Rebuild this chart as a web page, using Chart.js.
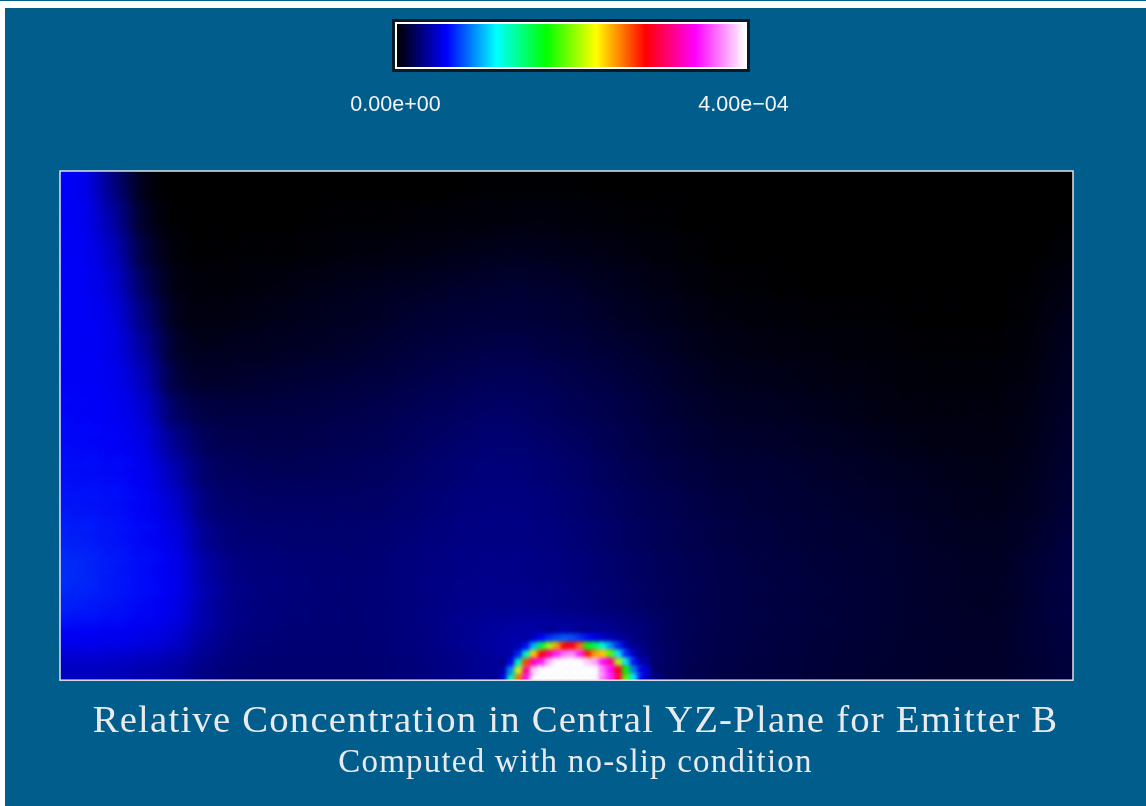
<!DOCTYPE html>
<html>
<head>
<meta charset="utf-8">
<script src="https://cdn.jsdelivr.net/npm/chart.js@4/dist/chart.umd.min.js"></script>
<style>
html, body { margin: 0; padding: 0; background: #fff; overflow: hidden; }
#strip { position: absolute; left: 0; top: 0; width: 1146px; height: 1px; background: #005d8c; }
#panel { position: absolute; left: 5px; top: 8px; width: 1141px; height: 798px; background: #005d8c; }
#chartMain { position: absolute; left: 0; top: 0; }
#chartBar { position: absolute; left: 335px; top: 2px; }
</style>
</head>
<body>
<div id="strip"></div>
<div id="panel">
    <canvas id="chartMain" width="1141" height="798"></canvas>
    <canvas id="chartBar" width="460" height="120"></canvas>
</div>
<script>
// colour scale, values are in units of 1e-6
const scaleMax = 400;
const stopColors = ['#000000', '#0000ff', '#00ffff', '#00ff00', '#ffff00', '#ff0000', '#ff00ff', '#ffffff'];
const barTickValues = [0, 4e-4];
const barTickLabels = ['0.00e+00', '4.00e\u221204'];
const barCategory = ['range'];
const barValues = [4e-4];

const titleText = 'Relative Concentration in Central YZ-Plane for Emitter B';
const subtitleText = 'Computed with no-slip condition';

// coarse field, first row is the top of the plot
const fieldRows = [
    [58,57,22,0,0,0,0,0,0,0,0,0,0,0,0,0,0,0,0,0,0,0,0,0,0,0,0,0,0,0,0,0,0,0],
    [58,57,30,3,0,0,0,0,0,1,1,1,1,1,2,2,2,2,1,1,1,1,0,0,0,0,0,0,0,0,0,0,0,0],
    [58,57,38,6,1,1,1,1,1,2,2,2,3,3,3,4,4,3,3,2,2,1,1,1,0,0,0,0,0,0,0,0,0,1],
    [58,57,46,12,2,1,2,2,2,3,4,4,5,6,7,8,7,6,5,4,3,2,1,1,1,0,0,0,0,0,0,0,1,3],
    [58,57,50,20,3,3,3,4,5,6,7,8,9,10,11,12,11,10,8,6,5,3,2,2,1,1,1,1,1,1,1,1,2,5],
    [58,57,54,28,5,4,5,6,7,8,9,10,12,13,14,14,13,12,10,8,7,5,4,3,3,2,2,2,1,1,1,1,3,7],
    [58,57,55,36,8,7,8,8,9,10,11,13,15,16,17,18,16,15,13,11,9,7,5,5,4,4,3,3,2,2,2,2,4,8],
    [58,57,56,44,12,10,11,12,13,14,15,16,18,19,21,21,20,18,16,14,11,9,7,7,6,5,5,4,3,3,3,3,5,9],
    [59,58,57,50,22,16,16,16,16,17,18,19,21,22,24,24,22,20,18,16,13,11,9,9,8,7,6,5,4,4,4,4,6,10],
    [60,59,58,54,33,20,19,18,18,19,20,21,23,25,27,27,25,23,20,17,15,13,11,11,10,9,8,7,6,5,5,5,7,11],
    [61,60,60,57,42,23,22,21,21,21,22,23,25,27,29,29,27,25,22,19,17,15,13,13,12,11,10,9,8,7,6,6,8,12],
    [63,62,61,58,49,27,25,24,24,24,24,25,27,29,30,30,29,26,24,21,19,17,15,14,13,12,11,10,9,8,7,7,9,13],
    [66,64,62,59,54,32,27,27,26,26,26,27,29,30,31,31,30,28,25,22,20,18,16,15,14,13,12,12,10,9,8,8,11,15],
    [69,67,63,60,56,38,30,29,28,27,27,28,30,31,32,32,31,29,26,23,21,19,17,16,15,14,13,12,11,10,9,9,13,16],
    [66,64,62,59,55,38,31,29,28,27,27,28,30,32,33,33,32,30,27,24,21,19,17,16,15,14,13,12,11,10,9,9,13,16],
    [57,57,56,54,49,36,30,28,27,27,27,28,30,33,36,40,40,38,36,30,22,19,17,16,15,14,13,12,11,11,10,10,13,15],
    [44,44,43,40,37,30,27,26,26,26,26,27,29,31,34,38,40,40,38,32,22,18,16,15,14,13,12,11,11,10,10,10,12,14]
];

// finer cells around the emitter, first row is the top, null = no cell
const emitterFirstCol = 14.25;
const emitterStep = 0.25;
const emitterRows = [
    [null,null,null,null,null,null,null,32,35,38,36,32,null,null,null,null,null,null,null,null,null,null],
    [null,null,null,null,35,45,58,68,74,78,76,68,60,52,46,40,35,null,null,null,null,null],
    [null,null,null,40,60,100,160,210,250,285,290,260,170,150,120,90,65,42,32,null,null,null],
    [null,null,38,65,130,240,290,320,350,370,375,350,280,250,240,190,110,65,42,30,null,null],
    [null,30,55,130,270,330,350,385,400,400,400,400,390,380,345,320,210,110,60,38,null,null],
    [null,40,90,220,320,390,400,400,400,400,400,400,400,400,370,345,290,170,85,50,null,null],
    [30,50,130,260,345,400,400,400,400,400,400,400,400,400,370,350,300,190,110,55,35,28]
];

function toCells(rows, firstCol, step) {
    let cells = [];
    for (let r = 0; r < rows.length; r++) {
        for (let c = 0; c < rows[r].length; c++) {
            if (rows[r][c] === null) continue;
            cells.push({
                x: firstCol + c * step,
                y: (rows.length - 1 - r) * step,
                v: rows[r][c]
            });
        }
    }
    return cells;
}

function hexToRgb(h) {
    return [parseInt(h.substr(1, 2), 16), parseInt(h.substr(3, 2), 16), parseInt(h.substr(5, 2), 16)];
}

function colorFor(v) {
    let t = Math.min(Math.max(v / scaleMax, 0), 1) * (stopColors.length - 1);
    let i = Math.min(Math.floor(t), stopColors.length - 2);
    let a = hexToRgb(stopColors[i]);
    let b = hexToRgb(stopColors[i + 1]);
    let f = t - i;
    return 'rgb(' + (a[0] + (b[0] - a[0]) * f) + ',' + (a[1] + (b[1] - a[1]) * f) + ',' + (a[2] + (b[2] - a[2]) * f) + ')';
}

// softens the cells the way the original image is smoothed
const cellBlur = {
    id: 'cellBlur',
    beforeDatasetDraw(chart, args) {
        chart.ctx.save();
        chart.ctx.filter = 'blur(' + chart.data.datasets[args.index].blur + 'px)';
    },
    afterDatasetDraw(chart) {
        chart.ctx.restore();
    }
};

const plotFrame = {
    id: 'plotFrame',
    beforeDatasetsDraw(chart) {
        const a = chart.chartArea;
        chart.ctx.fillStyle = '#000';
        chart.ctx.fillRect(a.left, a.top, a.width, a.height);
    },
    afterDatasetsDraw(chart) {
        const a = chart.chartArea;
        const ctx = chart.ctx;
        ctx.save();
        ctx.strokeStyle = '#dfe3e8';
        ctx.lineWidth = 1.5;
        ctx.strokeRect(a.left, a.top, a.width, a.height);
        ctx.restore();
    }
};

const titleSpacing = {
    id: 'titleSpacing',
    beforeDraw(chart) {
        chart.ctx.letterSpacing = '1.2px';
    }
};

const mainChart = new Chart(document.getElementById('chartMain'), {
    type: 'scatter',
    plugins: [cellBlur, plotFrame, titleSpacing],
    data: {
        datasets: [{
            label: 'emitter',
            order: 0,
            data: toCells(emitterRows, emitterFirstCol, emitterStep),
            blur: 2,
            clip: 0,
            pointStyle: 'rect',
            pointRadius: 8.5,
            pointHoverRadius: 8.5,
            pointBorderWidth: 0,
            pointBackgroundColor: ctx => colorFor(ctx.raw.v)
        }, {
            label: 'field',
            order: 1,
            data: toCells(fieldRows, 0, 1),
            blur: 12,
            clip: 0,
            pointStyle: 'rect',
            pointRadius: 34,
            pointHoverRadius: 34,
            pointBorderWidth: 0,
            pointBackgroundColor: ctx => colorFor(ctx.raw.v)
        }]
    },
    options: {
        responsive: false,
        animation: false,
        // the hidden right axis takes up the extra width so the titles centre on the panel
        layout: { padding: { left: 55, right: 55, top: 163, bottom: 0 } },
        scales: {
            x: { type: 'linear', display: false, min: 0, max: 33 },
            y: {
                type: 'linear',
                position: 'right',
                min: 0,
                max: 16,
                grid: { display: false, drawTicks: false },
                border: { display: false },
                ticks: { display: false },
                afterFit(axis) { axis.width = 18; }
            }
        },
        plugins: {
            legend: { display: false },
            tooltip: { enabled: false },
            title: {
                display: true,
                text: titleText,
                position: 'bottom',
                weight: 1000,
                color: '#e8eaee',
                font: { family: '"Liberation Serif"', size: 38.75, weight: 'normal', lineHeight: 1.2 },
                padding: { top: 18, bottom: 0 }
            },
            subtitle: {
                display: true,
                text: subtitleText,
                position: 'bottom',
                weight: 1500,
                color: '#e8eaee',
                font: { family: '"Liberation Serif"', size: 33, weight: 'normal', lineHeight: 1.1 },
                padding: { top: 0, bottom: 25 }
            }
        }
    }
});

const barFrame = {
    id: 'barFrame',
    afterDatasetsDraw(chart) {
        const a = chart.chartArea;
        const ctx = chart.ctx;
        ctx.save();
        ctx.strokeStyle = '#0a1a26';
        ctx.lineWidth = 3;
        ctx.strokeRect(a.left - 3.5, a.top - 3.5, a.width + 7, a.height + 7);
        ctx.strokeStyle = '#ffffff';
        ctx.lineWidth = 2;
        ctx.strokeRect(a.left - 1, a.top - 1, a.width + 2, a.height + 2);
        ctx.restore();
    }
};

function barGradient(ctx) {
    const chart = ctx.chart;
    if (!chart.chartArea) return stopColors[0];
    const xs = chart.scales.x;
    const g = chart.ctx.createLinearGradient(xs.getPixelForValue(0), 0, xs.getPixelForValue(barValues[0]), 0);
    stopColors.forEach((c, i) => g.addColorStop(i / (stopColors.length - 1), c));
    return g;
}

const barChart = new Chart(document.getElementById('chartBar'), {
    type: 'bar',
    plugins: [barFrame],
    data: {
        labels: barCategory,
        datasets: [{
            data: barValues,
            barPercentage: 1,
            categoryPercentage: 1,
            backgroundColor: barGradient
        }]
    },
    options: {
        indexAxis: 'y',
        responsive: false,
        animation: false,
        layout: { padding: { left: 57, right: 55, top: 14, bottom: 0 } },
        scales: {
            y: { display: false },
            x: {
                type: 'linear',
                min: 0,
                max: 4e-4,
                grid: { display: false, drawTicks: false },
                border: { display: false },
                afterFit(axis) {
                    axis.height = 63;
                    axis.paddingLeft = 0;
                    axis.paddingRight = 0;
                },
                afterBuildTicks(axis) { axis.ticks = barTickValues.map(v => ({ value: v })); },
                ticks: {
                    color: '#f2f4f6',
                    autoSkip: false,
                    maxRotation: 0,
                    padding: 25,
                    labelOffset: -1.5,
                    font: { family: '"Liberation Sans"', size: 21.5 },
                    callback: (value, index) => barTickLabels[index]
                }
            }
        },
        plugins: { legend: { display: false }, tooltip: { enabled: false } }
    }
});
</script>
</body>
</html>
